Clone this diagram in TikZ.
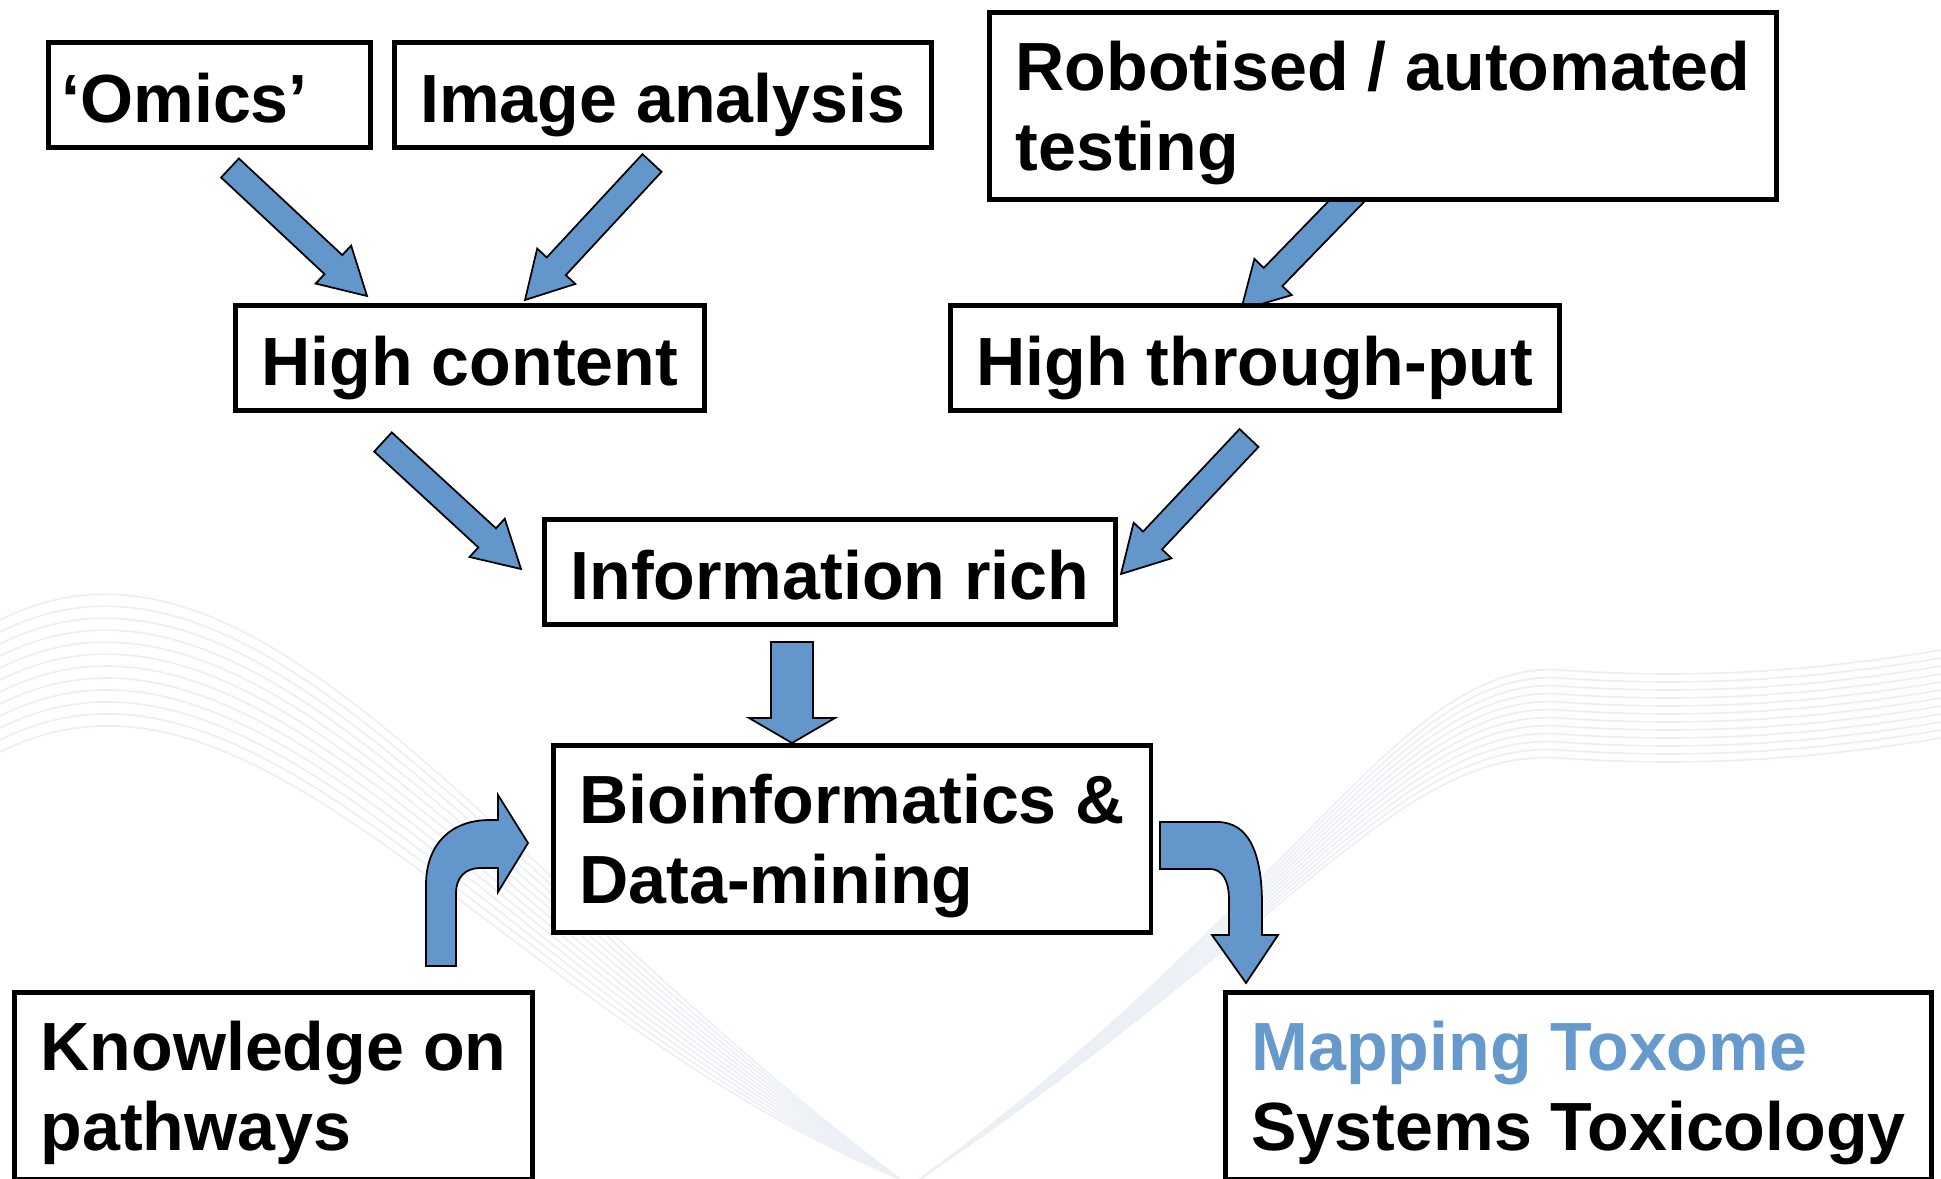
\documentclass[tikz,border=0pt]{standalone}
\usepackage{fontspec}
\setmainfont{Liberation Sans}
\usepackage{xcolor}
\usepackage{tikz}
\usetikzlibrary{positioning,calc,backgrounds}
\definecolor{arrowblue}{RGB}{99,151,204}
\definecolor{toxblue}{RGB}{102,153,204}
\definecolor{swoosh}{RGB}{236,240,246}

% block arrow: tail, tip, shaft half width, head half width, head length
\newcommand{\fatarrow}[5]{%
  \coordinate (fa-base) at ($(#2)!#5!(#1)$);
  \filldraw[fat] ($(#1)!#3!90:(#2)$) -- ($(fa-base)!#3!90:(#2)$) -- ($(fa-base)!#4!90:(#2)$)
    -- (#2) -- ($(fa-base)!#4!-90:(#2)$) -- ($(fa-base)!#3!-90:(#2)$) -- ($(#1)!#3!-90:(#2)$) -- cycle;
}

\begin{document}
\begin{tikzpicture}[
            box/.style={draw=black, line width=1.4pt, fill=white, anchor=north west, align=left,
                        inner xsep=0.26cm, inner ysep=0pt, font=\fontsize{19.4}{22.9}\selectfont\bfseries},
            onebox/.style={box, minimum height=1.05cm, text height=0.714cm, text depth=0.17cm},
            twobox/.style={box, minimum height=1.87cm, text depth=0cm},
            fat/.style={fill=arrowblue, draw=black, line width=0.5pt, line join=miter}
        ]
            \useasboundingbox (0,0) rectangle (19.41,-11.79);

            % faint background swoosh
            \foreach \k in {0,...,11} {
                \draw[swoosh, line width=0.5pt] (0,-6.2-0.12*\k) .. controls (2.6,-4.9-0.12*\k) and (5.0,-8.8-0.12*\k) .. (9.0,-11.79);
                \draw[swoosh, line width=0.5pt] (9.2,-11.79) .. controls (13.0,-9.0-0.02*\k) and (14.0,-6.6-0.08*\k) .. (15.6,-6.7-0.08*\k)
                    .. controls (17.0,-6.8-0.08*\k) and (18.2,-6.7-0.08*\k) .. (19.41,-6.5-0.08*\k);
            }

            \node[onebox, inner xsep=0.13cm, text width=2.96cm] at (0.46,-0.40) (omics) {‘Omics’};
            \node[onebox, right=0.19cm of omics] (image) {Image analysis};
            \node[twobox] at (9.87,-0.10) (robot) {Robotised / automated\\testing};

            \node[onebox] at (2.33,-3.03) (highcont) {High content};
            \node[onebox] at (9.48,-3.03) (highthru) {High through-put};

            \node[onebox] at (5.42,-5.17) (info) {Information rich};
            \node[twobox] at (5.51,-7.43) (bioinf) {Bioinformatics \&\\Data-mining};

            \node[twobox] at (0.12,-9.90) (knowledge) {Knowledge on\\pathways};
            \node[twobox] at (12.23,-9.90) (toxome) {{\color{toxblue}Mapping Toxome}\\Systems Toxicology};

            \coordinate (omics-out) at (2.30,-1.68);
            \coordinate (image-out) at (6.52,-1.63);
            \coordinate (robot-out) at (13.73,-1.74);
            \coordinate (hc-in1) at (3.67,-2.96);
            \coordinate (hc-in2) at (5.25,-3.00);
            \coordinate (ht-in) at (12.41,-3.10);
            \coordinate (hc-out) at (3.83,-4.42);
            \coordinate (ht-out) at (12.49,-4.38);
            \coordinate (info-in1) at (5.21,-5.69);
            \coordinate (info-in2) at (11.21,-5.74);
            \coordinate (info-out) at (7.92,-6.42);
            \coordinate (bio-in) at (7.92,-7.43);

            \begin{scope}[on background layer]
                \fatarrow{omics-out}{hc-in1}{0.13cm}{0.26cm}{0.46cm}
                \fatarrow{image-out}{hc-in2}{0.13cm}{0.26cm}{0.46cm}
                \fatarrow{robot-out}{ht-in}{0.13cm}{0.26cm}{0.46cm}
                \fatarrow{hc-out}{info-in1}{0.13cm}{0.26cm}{0.46cm}
                \fatarrow{ht-out}{info-in2}{0.13cm}{0.26cm}{0.46cm}
                \fatarrow{info-out}{bio-in}{0.21cm}{0.43cm}{0.25cm}
            \end{scope}

            % bent arrows
            \coordinate (kn-out) at (4.26,-9.66);
            \coordinate (bio-out) at (11.60,-8.22);
            \filldraw[fat] (kn-out) -- (4.26,-8.85) .. controls (4.26,-8.45) and (4.50,-8.20) .. (4.90,-8.20)
                -- (4.98,-8.20) -- (4.98,-7.95) -- (5.28,-8.43) -- (4.98,-8.92) -- (4.98,-8.68) -- (4.80,-8.68)
                .. controls (4.65,-8.68) and (4.56,-8.78) .. (4.56,-8.93) -- (4.56,-9.66) -- cycle;
            \filldraw[fat] (bio-out) -- (12.17,-8.22) .. controls (12.50,-8.22) and (12.62,-8.55) .. (12.62,-9.05)
                -- (12.62,-9.35) -- (12.78,-9.35) -- (12.46,-9.83) -- (12.12,-9.35) -- (12.29,-9.35) -- (12.29,-9.00)
                .. controls (12.29,-8.80) and (12.22,-8.69) .. (12.10,-8.69) -- (11.60,-8.69) -- cycle;
        \end{tikzpicture}
\end{document}
